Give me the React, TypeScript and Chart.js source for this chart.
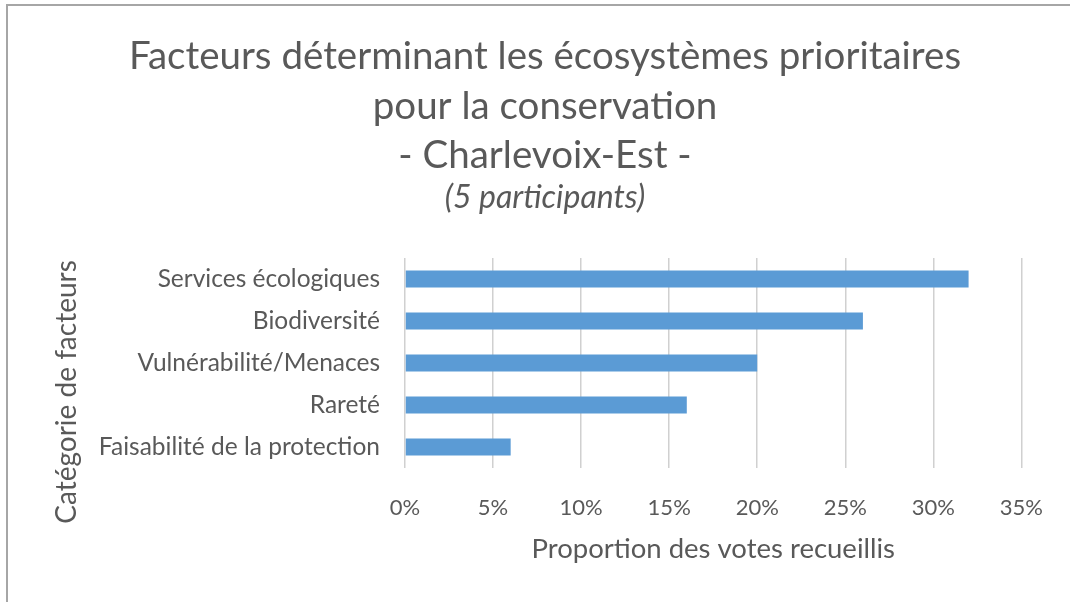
import React, { useEffect, useRef } from "react";
import { Chart, registerables } from "chart.js";

Chart.register(...registerables);

const categories = [
  "Services écologiques",
  "Biodiversité",
  "Vulnérabilité/Menaces",
  "Rareté",
  "Faisabilité de la protection",
];
const voteShares = [32, 26, 20, 16, 6];
const xTickValues = [0, 5, 10, 15, 20, 25, 30, 35];
const titleLines = [
  "Facteurs déterminant les écosystèmes prioritaires",
  "pour la conservation",
  "- Charlevoix-Est -",
];
const subtitleText = "(5 participants)";
const xAxisTitle = "Proportion des votes recueillis";
const yAxisTitle = "Catégorie de facteurs";

const FONT = "Lato";
const TEXT = "#595959";

const yTitlePlugin = {
  id: "yTitlePlugin",
  afterDraw(chart: any) {
    const ctx = chart.ctx;
    ctx.save();
    ctx.translate(67, 392);
    ctx.rotate(-Math.PI / 2);
    ctx.font = `28px ${FONT}`;
    ctx.fillStyle = TEXT;
    ctx.textAlign = "center";
    ctx.textBaseline = "middle";
    ctx.fillText(yAxisTitle, 0, 0);
    ctx.restore();
  },
};

export default function App() {
  const ref = useRef<HTMLCanvasElement | null>(null);

  useEffect(() => {
    document.body.style.margin = "0";
    const canvas = ref.current;
    if (!canvas) return;
    const chart = new Chart(canvas, {
      type: "bar",
      data: {
        labels: categories,
        datasets: [
          {
            data: voteShares,
            backgroundColor: "#5B9BD5",
            borderWidth: 0,
            barPercentage: 0.4,
            categoryPercentage: 1,
          },
        ],
      },
      options: {
        indexAxis: "y",
        animation: false,
        responsive: false,
        layout: { padding: { left: 65, right: 45, top: 0, bottom: 36 } },
        plugins: {
          legend: { display: false },
          tooltip: { enabled: false },
          title: {
            display: true,
            text: titleLines,
            color: TEXT,
            font: { family: FONT, size: 38.5, weight: "normal", lineHeight: 49.5 / 38.5 },
            padding: { top: 32, bottom: 0 },
          },
          subtitle: {
            display: true,
            text: subtitleText,
            color: TEXT,
            font: { family: FONT, size: 32, style: "italic", weight: "normal", lineHeight: 1 },
            padding: { top: 1.5, bottom: 44 },
          },
        },
        scales: {
          x: {
            type: "linear",
            min: 0,
            max: 35,
            afterBuildTicks: (scale: any) => {
              scale.ticks = xTickValues.map((v) => ({ value: v }));
            },
            afterFit: (scale: any) => {
              scale.height = 98;
            },
            ticks: {
              color: TEXT,
              font: { family: FONT, size: 22, lineHeight: 1.2 },
              padding: 27,
              callback: (v: any) => `${v}%`,
            },
            grid: { color: "#d0d0d0", lineWidth: 1.5, drawTicks: false },
            border: { display: false },
            title: {
              display: true,
              text: xAxisTitle,
              color: TEXT,
              font: { family: FONT, size: 27.5, lineHeight: 1.2 },
              padding: { top: 0, bottom: 0 },
            },
          },
          y: {
            afterFit: (scale: any) => {
              scale.width = 340;
            },
            ticks: {
              color: TEXT,
              font: { family: FONT, size: 24.5 },
              padding: 25,
            },
            grid: { display: false, drawTicks: false },
            border: { display: false },
          },
        },
      },
      plugins: [yTitlePlugin],
    });
    return () => chart.destroy();
  }, []);

  return (
    <div
      style={{
        position: "absolute",
        left: 0,
        top: 0,
        width: 1070,
        height: 602,
        overflow: "hidden",
        background: "#fff",
      }}
    >
      <div
        style={{
          position: "absolute",
          left: 6,
          top: 4,
          width: 1200,
          height: 800,
          borderTop: "2px solid #a6a6a6",
          borderLeft: "2px solid #a6a6a6",
        }}
      />
      <canvas
        ref={ref}
        width={1070}
        height={602}
        style={{ position: "absolute", left: 0, top: 0, display: "block" }}
      />
    </div>
  );
}
